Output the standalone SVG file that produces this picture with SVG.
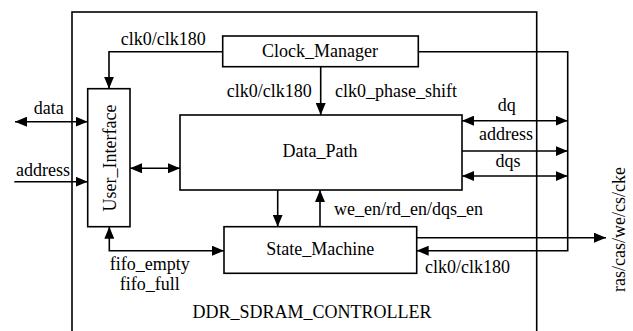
<svg xmlns="http://www.w3.org/2000/svg" width="633" height="331" viewBox="0 0 633 331">
  <style>
    .box { fill: #fff; stroke: #000; stroke-width: 1.6; }
    .frame { fill: none; stroke: #000; stroke-width: 1.6; }
    .wire { fill: none; stroke: #000; stroke-width: 1.6; }
    .arr { marker-end: url(#head); }
    .bi { marker-start: url(#head); marker-end: url(#head); }
    text { font-family: 'Liberation Serif', 'Tinos', 'Times New Roman', 'DejaVu Serif', serif; font-size: 18px; fill: #000; }
    .mid { text-anchor: middle; }
  </style>
  <defs>
    <marker id="head" viewBox="0 0 12 10" refX="12" refY="5" markerWidth="12" markerHeight="10" markerUnits="userSpaceOnUse" orient="auto-start-reverse">
      <path d="M0,0 L12,5 L0,10 z" fill="#000"/>
    </marker>
  </defs>

  <!-- controller boundary (open at the bottom edge) -->
  <g id="controller">
    <rect class="frame" x="72" y="12" width="464.7" height="340"/>
    <text class="mid" x="312" y="318">DDR_SDRAM_CONTROLLER</text>
  </g>

  <!-- connectors -->
  <g id="connectors">
    <!-- clock distribution -->
    <path class="wire arr" d="M222.7,51.7 H109 V88.7"/>
    <path class="wire arr" d="M320.7,66.7 V115"/>
    <path class="wire arr" d="M418.3,51.7 H567.7 V250.7 H416.7"/>
    <!-- user side -->
    <path class="wire bi" d="M15,121.7 H87.7"/>
    <path class="wire arr" d="M14.3,181.7 H87.7"/>
    <path class="wire bi" d="M130,168.3 H180"/>
    <path class="wire bi" d="M109.3,226.7 V250.7 H224"/>
    <!-- data path / state machine -->
    <path class="wire arr" d="M277.7,190 V226.7"/>
    <path class="wire arr" d="M320,226.7 V190"/>
    <!-- memory side -->
    <path class="wire bi" d="M462,120.7 H567.7"/>
    <path class="wire arr" d="M462,151 H567.7"/>
    <path class="wire bi" d="M462,176 H567.7"/>
    <path class="wire arr" d="M416.7,237.7 H606"/>

    <!-- connector labels -->
    <text x="120.7" y="45">clk0/clk180</text>
    <text x="226.7" y="96.7">clk0/clk180</text>
    <text x="335" y="96.7">clk0_phase_shift</text>
    <text class="mid" x="48.8" y="114.3">data</text>
    <text class="mid" x="43" y="176">address</text>
    <text class="mid" x="506.7" y="110.7">dq</text>
    <text class="mid" x="506" y="140">address</text>
    <text class="mid" x="508" y="166.7">dqs</text>
    <text x="334" y="215">we_en/rd_en/dqs_en</text>
    <text class="mid" x="149.7" y="270">fifo_empty</text>
    <text class="mid" x="149.7" y="290">fifo_full</text>
    <text x="425" y="273.3">clk0/clk180</text>
    <text class="mid" transform="translate(625,229.5) rotate(-90)">ras/cas/we/cs/cke</text>
  </g>

  <!-- blocks -->
  <g id="clock_manager">
    <rect class="box" x="222.7" y="36" width="195.6" height="30.7"/>
    <text class="mid" x="320" y="56.7">Clock_Manager</text>
  </g>
  <g id="user_interface">
    <rect class="box" x="87.7" y="88.7" width="42.3" height="138"/>
    <text class="mid" transform="translate(115.5,158) rotate(-90)">User_Interface</text>
  </g>
  <g id="data_path">
    <rect class="box" x="180" y="115" width="282" height="75"/>
    <text class="mid" x="320" y="157.3">Data_Path</text>
  </g>
  <g id="state_machine">
    <rect class="box" x="224" y="226.7" width="192.7" height="46.6"/>
    <text class="mid" x="320.3" y="255">State_Machine</text>
  </g>
</svg>
